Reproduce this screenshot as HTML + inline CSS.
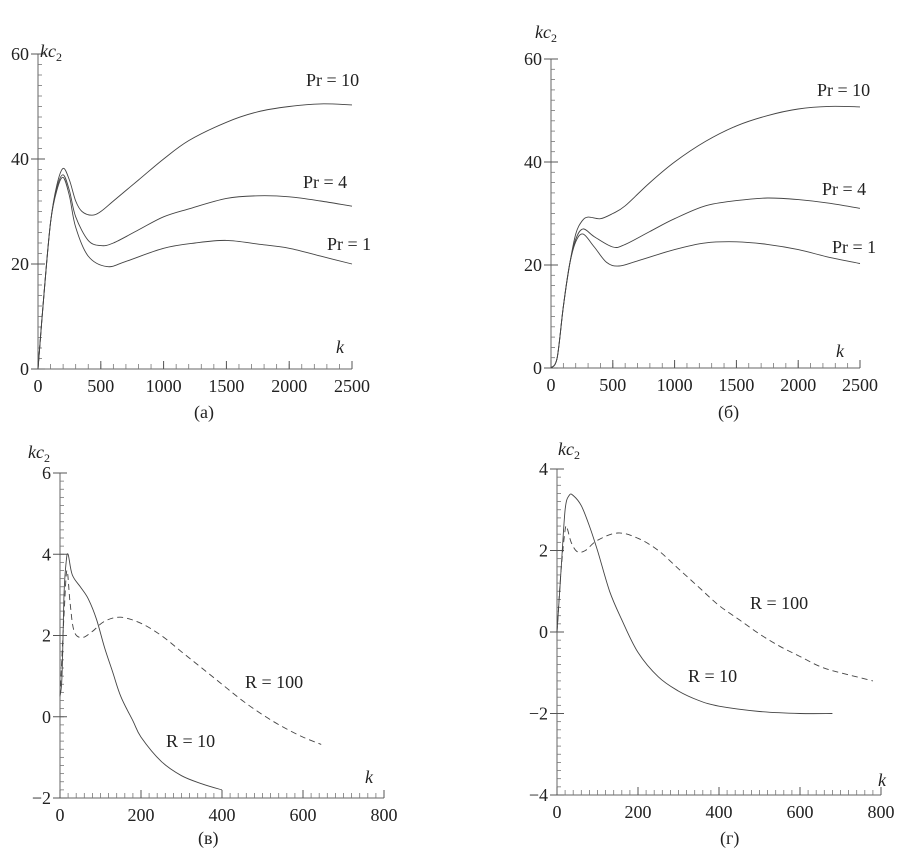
<!DOCTYPE html>
<html><head><meta charset="utf-8"><style>
body{margin:0;background:#fff}
svg text{font-family:"Liberation Serif",serif;fill:#222}
</style></head><body>
<svg id="chart" width="917" height="851" viewBox="0 0 917 851" xmlns="http://www.w3.org/2000/svg"></svg>
<script>
// Panel (a)
const aK10=[0,50,100,150,200,250,300,350,430,500,600,800,1000,1200,1500,1750,2000,2250,2500];
const aPr10=[0,15,28,35,38.2,36,32,30,29.3,30,32,36,40,43.5,47,49,50,50.5,50.3];
const aK4=[0,50,100,150,200,250,300,400,500,600,800,1000,1200,1500,1750,2000,2250,2500];
const aPr4=[0,15,28,34.5,37,34,29,24.5,23.5,24,26.5,29,30.5,32.5,33,32.8,32,31];
const aK1=[0,50,100,150,200,250,300,400,550,700,1000,1250,1500,1750,2000,2250,2500];
const aPr1=[0,15,28,34,36.5,33,27,21.5,19.5,20.5,23,24,24.5,23.8,23,21.5,20];
// Panel (б)
const bK10=[0,50,100,150,200,250,300,400,500,600,800,1000,1250,1500,1750,2000,2250,2500];
const bPr10=[0,2,12,20,26,28.5,29.3,29,30,31.5,36,40,44,47,49,50.3,50.8,50.7];
const bK4=[0,50,100,150,200,260,350,500,600,800,1000,1250,1500,1750,2000,2250,2500];
const bPr4=[0,2,12,20,25,27,25.5,23.5,24,26.5,29,31.5,32.5,33,32.7,32,31];
const bK1=[0,50,100,150,200,260,350,450,550,700,1000,1250,1500,1750,2000,2250,2500];
const bPr1=[0,2,12,20,24.5,26,23.5,20.5,19.8,20.8,23,24.3,24.5,24,23,21.5,20.3];
// Panel (в)
const cK10=[0,5,10,15,20,30,50,70,90,110,130,150,180,200,250,300,350,400];
const cR10=[0.5,1,3,3.8,4.0,3.5,3.2,2.9,2.4,1.7,1.1,0.5,-0.1,-0.5,-1.1,-1.45,-1.65,-1.8];
const cK100=[0,10,17,25,35,55,80,110,150,200,250,300,350,400,450,500,550,600,645];
const cR100=[0.5,2.5,3.6,2.8,2.1,1.95,2.1,2.35,2.45,2.3,2.0,1.6,1.2,0.8,0.4,0.05,-0.25,-0.5,-0.68];
// Panel (г)
const dK10=[0,10,20,30,40,60,80,100,130,160,200,250,300,350,400,500,600,680];
const dR10=[0,1.5,3.0,3.35,3.35,3.1,2.6,2.0,1.0,0.3,-0.5,-1.1,-1.45,-1.68,-1.82,-1.95,-2.0,-2.0];
const dK100=[0,10,20,25,35,50,70,100,150,200,250,300,350,400,450,500,550,600,650,700,780];
const dR100=[0,1.5,2.5,2.55,2.2,1.97,2.0,2.25,2.43,2.3,2.0,1.55,1.1,0.65,0.3,-0.05,-0.35,-0.6,-0.85,-1.0,-1.2];

const xTicksA=[0,500,1000,1500,2000,2500];
const yTicksA=[0,20,40,60];
const xTicksC=[0,200,400,600,800];
const yTicksC=[-2,0,2,4,6];
const yTicksD=[-4,-2,0,2,4];

const svg=document.getElementById('chart');
const NS='http://www.w3.org/2000/svg';
function mk(tag,attrs,parent){const e=document.createElementNS(NS,tag);for(const k in attrs)e.setAttribute(k,attrs[k]);parent.appendChild(e);return e;}
function smooth(pts){
  let d='M'+pts[0][0].toFixed(1)+','+pts[0][1].toFixed(1);
  for(let i=0;i<pts.length-1;i++){
    const p0=pts[i-1]||pts[i],p1=pts[i],p2=pts[i+1],p3=pts[i+2]||p2;
    const c1=[p1[0]+(p2[0]-p0[0])/6,p1[1]+(p2[1]-p0[1])/6];
    const c2=[p2[0]-(p3[0]-p1[0])/6,p2[1]-(p3[1]-p1[1])/6];
    d+=' C'+c1.map(v=>v.toFixed(1))+' '+c2.map(v=>v.toFixed(1))+' '+p2.map(v=>v.toFixed(1));
  }
  return d;
}
function panel(cfg){
  const g=mk('g',{},svg);
  
  
  const sx=v=>cfg.px0+(v-cfg.x0)/(cfg.x1-cfg.x0)*(cfg.px1-cfg.px0);
  const sy=v=>cfg.py0+(v-cfg.y0)/(cfg.y1-cfg.y0)*(cfg.py1-cfg.py0);
  const ax=mk('line',{x1:sx(cfg.x0),y1:sy(cfg.y0),x2:sx(cfg.x1),y2:sy(cfg.y0),stroke:'#666','stroke-width':1},g);
  
  const ay=mk('line',{x1:sx(cfg.x0),y1:sy(cfg.y0),x2:sx(cfg.x0),y2:sy(cfg.y1),stroke:'#666','stroke-width':1},g);
  
  for(let v=cfg.x0;v<=cfg.x1+1e-9;v+=cfg.xm){const X=sx(v);mk('line',{x1:X,y1:sy(cfg.y0),x2:X,y2:sy(cfg.y0)-5,stroke:'#777','stroke-width':0.8},g);}
  for(let v=cfg.y0;v<=cfg.y1+1e-9;v+=cfg.ym){const Y=sy(v);mk('line',{x1:sx(cfg.x0),y1:Y,x2:sx(cfg.x0)+4,y2:Y,stroke:'#777','stroke-width':0.8},g);}
  cfg.xt.forEach(v=>{const X=sx(v);mk('line',{x1:X,y1:sy(cfg.y0),x2:X,y2:sy(cfg.y0)-8,stroke:'#555','stroke-width':1},g);
    const t=mk('text',{x:X,y:sy(cfg.y0)+23,'text-anchor':'middle','font-size':18},g);t.textContent=v;
    });
  cfg.yt.forEach(v=>{const Y=sy(v);mk('line',{x1:sx(cfg.x0)-7,y1:Y,x2:sx(cfg.x0)+7,y2:Y,stroke:'#555','stroke-width':1},g);
    const t=mk('text',{x:sx(cfg.x0)-9,y:Y+6,'text-anchor':'end','font-size':18},g);t.textContent=v<0?'\u2212'+(-v):v;
    });
  cfg.series.forEach(s=>{
    const pts=s.k.map((k,i)=>[sx(k),sy(s.v[i])]);
    const p=mk('path',{d:smooth(pts),fill:'none',stroke:'#444','stroke-width':0.9,'stroke-linejoin':'round'},g);
    if(s.dash)p.setAttribute('stroke-dasharray','6,4');
    
  });
  cfg.labels.forEach(l=>{const t=mk('text',{x:l[1],y:l[2],'font-size':l[3]||18},g);
    if(l[0]==='kc'){t.innerHTML='<tspan font-style="italic">kc</tspan><tspan font-size="12" dy="4">2</tspan>';}
    else if(l[0]==='k'){t.setAttribute('font-style','italic');t.textContent='k';}
    else{t.textContent=l[0];}
    });
}
panel({name:'panel-a',x0:0,x1:2500,y0:0,y1:60,px0:38,px1:352,py0:369,py1:54,xm:100,ym:2,xt:xTicksA,yt:yTicksA,
 series:[{k:aK10,v:aPr10,name:'series-pr10'},{k:aK4,v:aPr4,name:'series-pr4'},{k:aK1,v:aPr1,name:'series-pr1'}],
 labels:[['kc',40,57],['k',336,353],['Pr = 10',306,86],['Pr = 4',303,188],['Pr = 1',327,250],['(а)',194,418,18,'panel-caption']]});
panel({name:'panel-b',x0:0,x1:2500,y0:0,y1:60,px0:551,px1:860,py0:368,py1:59,xm:100,ym:2,xt:xTicksA,yt:yTicksA,
 series:[{k:bK10,v:bPr10,name:'series-pr10'},{k:bK4,v:bPr4,name:'series-pr4'},{k:bK1,v:bPr1,name:'series-pr1'}],
 labels:[['kc',535,38],['k',836,357],['Pr = 10',817,96],['Pr = 4',822,195],['Pr = 1',832,253],['(б)',718,418,18,'panel-caption']]});
panel({name:'panel-c',x0:0,x1:800,y0:-2,y1:6,px0:60,px1:384,py0:798,py1:473,xm:20,ym:0.2,xt:xTicksC,yt:yTicksC,
 series:[{k:cK10,v:cR10,name:'series-r10'},{k:cK100,v:cR100,dash:true,name:'series-r100'}],
 labels:[['kc',28,458],['k',365,783],['R = 100',245,688],['R = 10',166,747],['(в)',198,844,18,'panel-caption']]});
panel({name:'panel-d',x0:0,x1:800,y0:-4,y1:4,px0:557,px1:881,py0:795,py1:469,xm:20,ym:0.2,xt:xTicksC,yt:yTicksD,
 series:[{k:dK10,v:dR10,name:'series-r10'},{k:dK100,v:dR100,dash:true,name:'series-r100'}],
 labels:[['kc',558,455],['k',878,786],['R = 100',750,609],['R = 10',688,682],['(г)',720,844,18,'panel-caption']]});
</script>
</body></html>
